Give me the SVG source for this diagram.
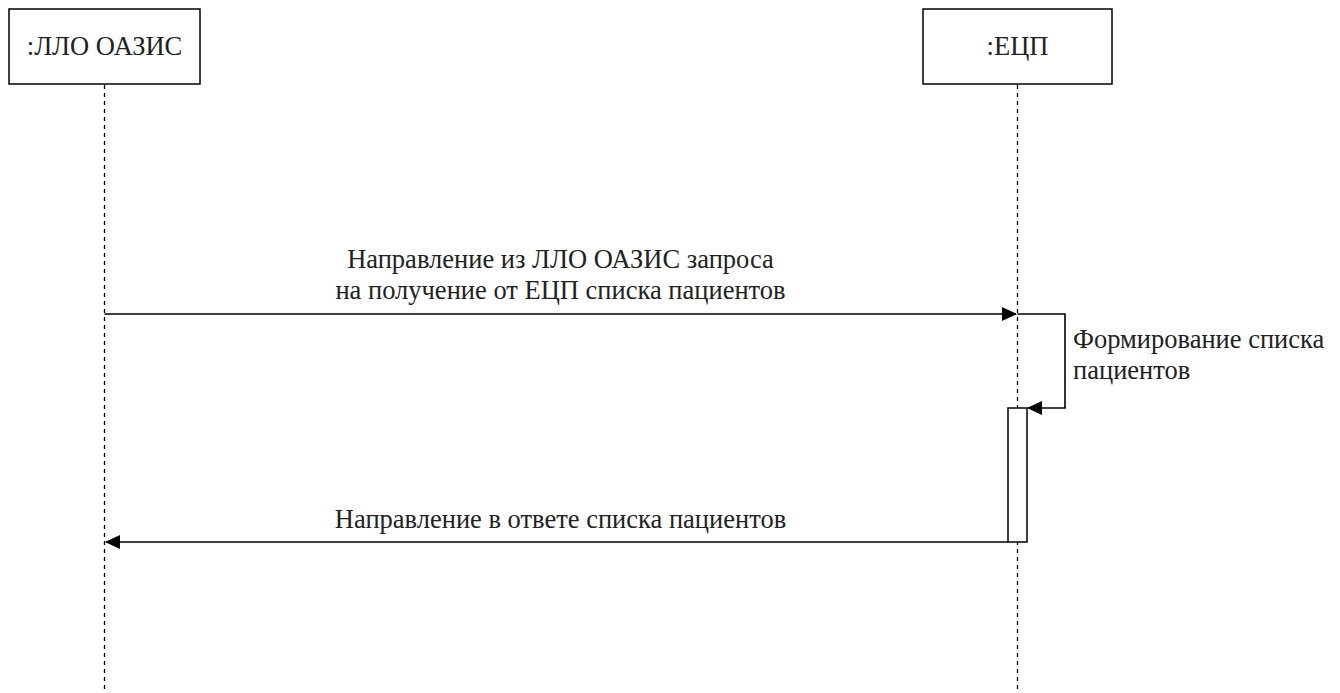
<svg xmlns="http://www.w3.org/2000/svg" width="1340" height="693" viewBox="0 0 1340 693">
<style>
.box{fill:#fff;stroke:#000;stroke-width:1.5}
.life{stroke:#000;stroke-width:1.3;stroke-dasharray:4 4;fill:none}
.msg{stroke:#000;stroke-width:1.6;fill:none}
</style>
<defs>
<marker id="arr" viewBox="0 0 15 14" refX="14" refY="7" markerWidth="15" markerHeight="14" markerUnits="userSpaceOnUse" orient="auto">
<path d="M0,0 L15,7 L0,14 Z" fill="#000"/>
</marker>
</defs>
<g id="lifelines">
<line class="life" x1="104.5" y1="85" x2="104.5" y2="693"/>
<line class="life" x1="1017.5" y1="85" x2="1017.5" y2="693"/>
</g>
<g font-family="Liberation Serif, serif" font-size="26.5" fill="#222">
<g id="node-llo">
<rect class="box" x="9" y="9" width="191" height="75"/>
<text x="104.5" y="55" text-anchor="middle">:ЛЛО ОАЗИС</text>
</g>
<g id="node-ecp">
<rect class="box" x="923" y="9" width="189" height="75"/>
<text x="1017.5" y="55" text-anchor="middle">:ЕЦП</text>
</g>
<g id="activation">
<rect class="box" x="1008" y="408" width="19" height="134"/>
</g>
<g id="connectors">
<line class="msg" x1="104.5" y1="314" x2="1016" y2="314" marker-end="url(#arr)"/>
<polyline class="msg" points="1017.5,314 1065,314 1065,408 1028,408" marker-end="url(#arr)"/>
<line class="msg" x1="1008" y1="542" x2="106" y2="542" marker-end="url(#arr)"/>
</g>
<g id="labels">
<text x="560.5" y="268" text-anchor="middle">Направление из ЛЛО ОАЗИС запроса</text>
<text x="560.5" y="299" text-anchor="middle">на получение от ЕЦП списка пациентов</text>
<text x="1073" y="348">Формирование списка</text>
<text x="1073" y="379">пациентов</text>
<text x="560.5" y="528" text-anchor="middle">Направление в ответе списка пациентов</text>
</g>
</g>
</svg>
